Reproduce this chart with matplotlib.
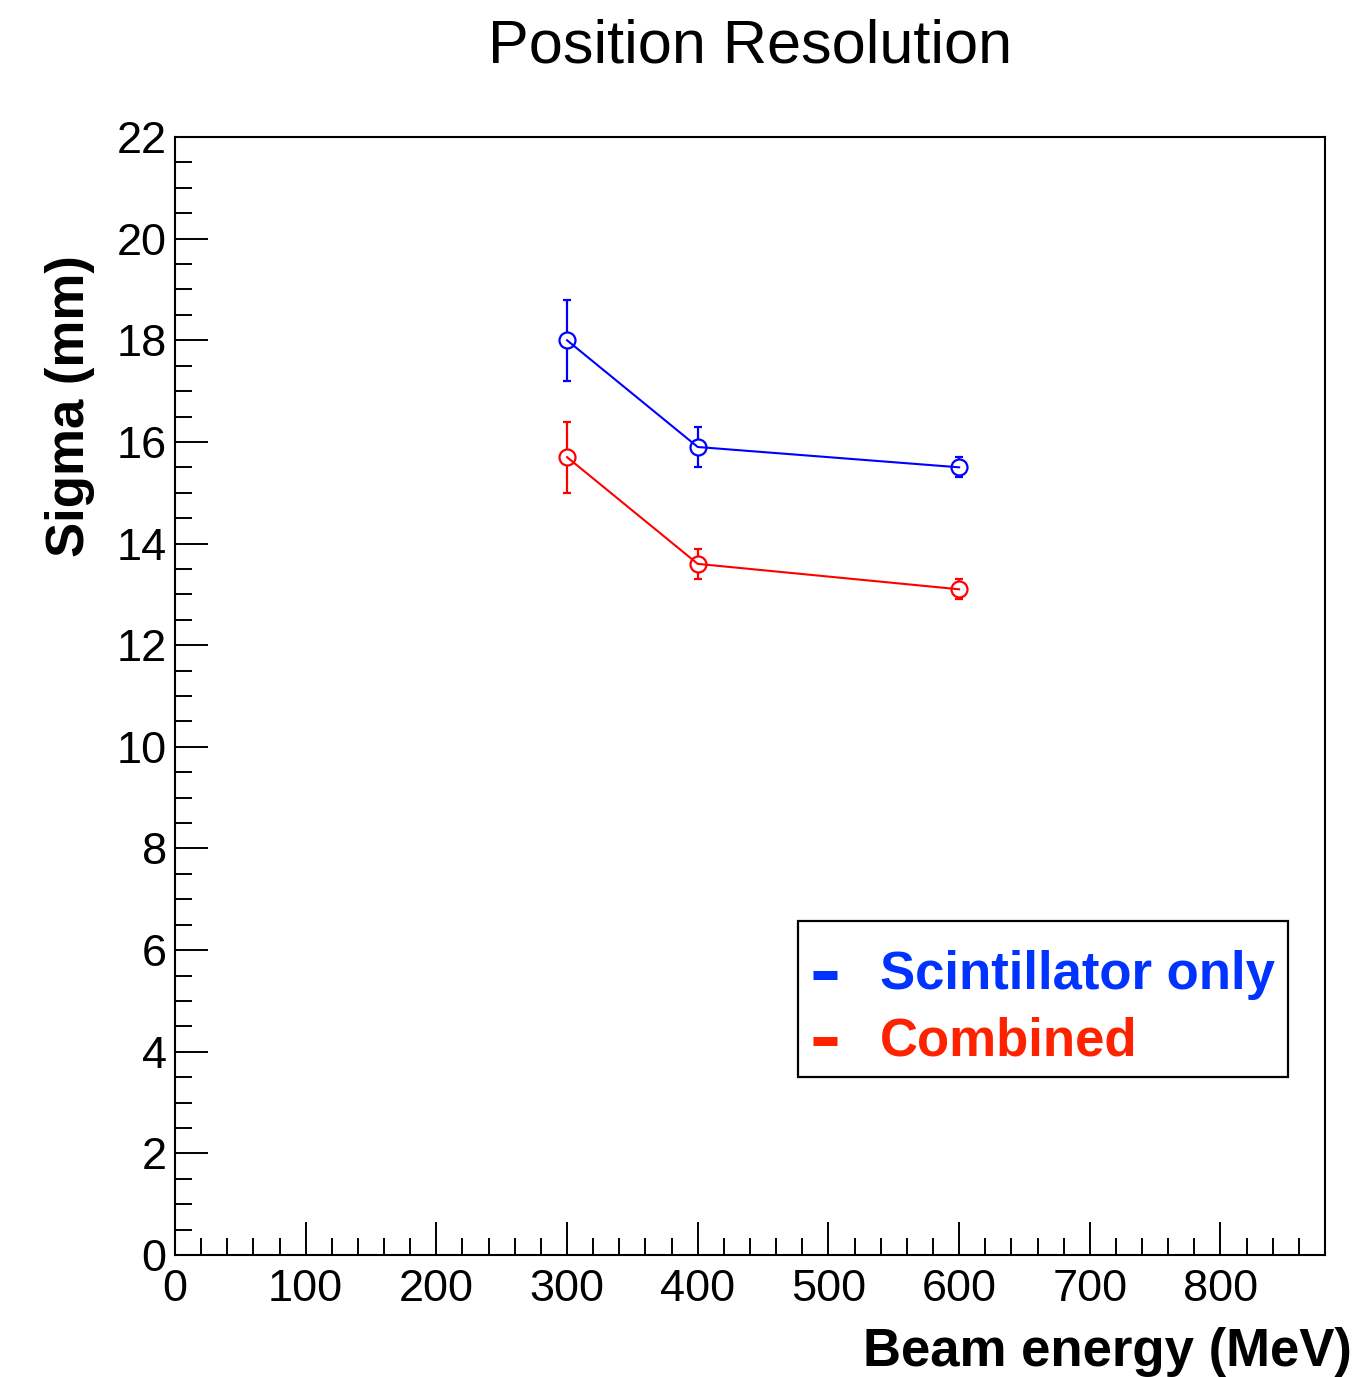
import matplotlib
matplotlib.use("Agg")
import matplotlib.pyplot as plt
from matplotlib.ticker import MultipleLocator
from matplotlib.lines import Line2D
from matplotlib.patches import Rectangle

plt.rcParams['font.family'] = ['Liberation Sans', 'DejaVu Sans']

energy = [300, 400, 600]
scint_sigma = [18.0, 15.9, 15.5]
scint_err = [0.8, 0.4, 0.2]
comb_sigma = [15.7, 13.6, 13.1]
comb_err = [0.7, 0.3, 0.2]

legend_labels = ['Scintillator only', 'Combined']
legend_colors = ['#0033ff', '#ff2200']

W, H = 1368, 1377
fig = plt.figure(figsize=(W / 100, H / 100), dpi=100)
L, R, T, B = 175, 1325, 137, 1255
ax = fig.add_axes([L / W, 1 - B / H, (R - L) / W, (B - T) / H])

for ys, es, c in [(scint_sigma, scint_err, '#0000ff'),
                  (comb_sigma, comb_err, '#ff0000')]:
    ax.errorbar(energy, ys, yerr=es, color=c, lw=0, marker='o', ms=11.5,
                mfc='white', mec=c, mew=1.6, capsize=3, capthick=1.6,
                elinewidth=1.6, zorder=2)
    ax.plot(energy, ys, color=c, lw=1.5, zorder=3)

ax.set_xlim(0, 880)
ax.set_ylim(0, 22)
ax.xaxis.set_major_locator(MultipleLocator(100))
ax.xaxis.set_minor_locator(MultipleLocator(20))
ax.yaxis.set_major_locator(MultipleLocator(2))
ax.yaxis.set_minor_locator(MultipleLocator(0.5))
ax.tick_params(axis='x', which='major', direction='in', length=24, width=1.4,
               labelsize=32.5, pad=10)
ax.tick_params(axis='x', which='minor', direction='in', length=12, width=1.4)
ax.tick_params(axis='y', which='major', direction='in', length=24, width=1.4,
               labelsize=32.5, pad=6)
ax.tick_params(axis='y', which='minor', direction='in', length=12, width=1.4)
for s in ax.spines.values():
    s.set_linewidth(1.5)

fig.text(750 / W, 1 - 47 / H, 'Position Resolution', ha='center', va='center',
         fontsize=44)
fig.text(1352 / W, 1 - 1352 / H, 'Beam energy (MeV)', ha='right', va='center',
         fontsize=38, fontweight='bold')
fig.text(70 / W, 1 - 406 / H, 'Sigma (mm)', ha='center', va='center',
         rotation=90, fontsize=38, fontweight='bold')

# Legend box drawn in figure pixel coordinates
fig.add_artist(Rectangle((798 / W, 1 - 1077 / H), (1288 - 798) / W,
                         (1077 - 921) / H, transform=fig.transFigure,
                         facecolor='white', edgecolor='black', lw=1.6,
                         zorder=5))
rows_base = [989, 1055]
rows_dash = [975, 1041]
for lab, c, yb, yd in zip(legend_labels, legend_colors, rows_base, rows_dash):
    fig.add_artist(Line2D([813 / W, 837 / W], [1 - yd / H, 1 - yd / H],
                          transform=fig.transFigure, color=c, lw=6.5,
                          solid_capstyle='butt', zorder=6))
    fig.text(880 / W, 1 - yb / H, lab, ha='left', va='baseline',
             fontsize=38, fontweight='bold', color=c, zorder=6)

fig.savefig('out.png', dpi=100)
